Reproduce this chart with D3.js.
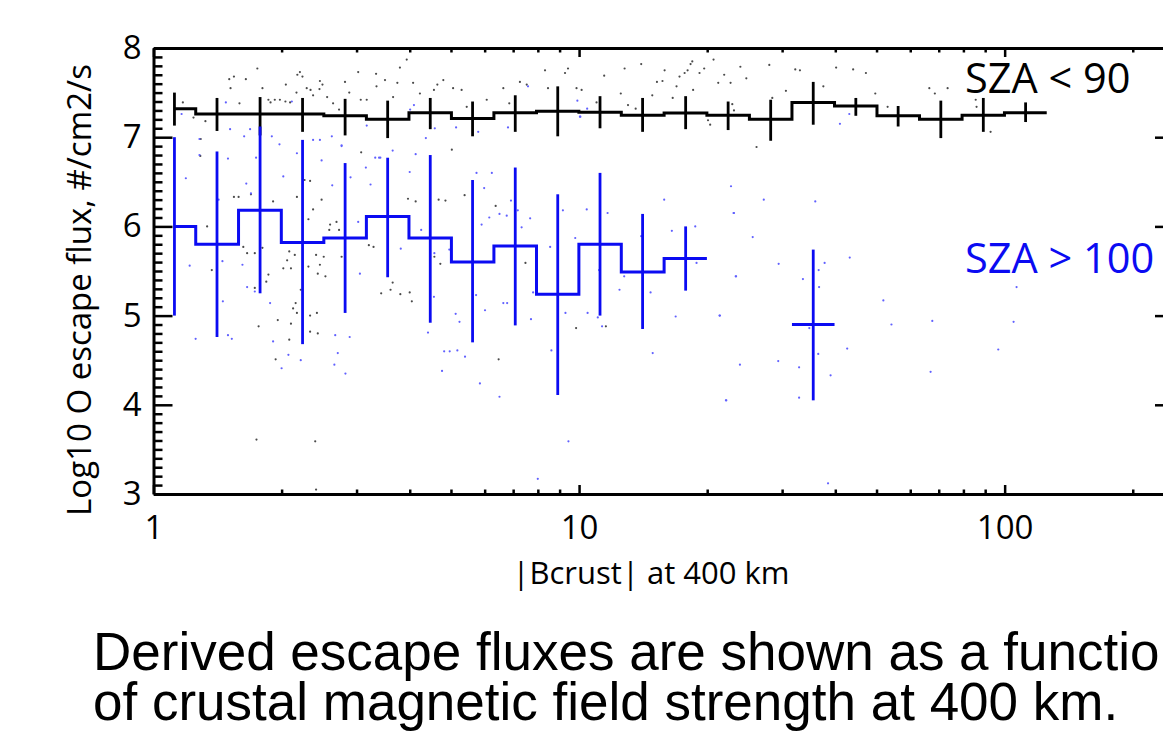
<!DOCTYPE html>
<html>
<head>
<meta charset="utf-8">
<script src="https://cdn.jsdelivr.net/npm/d3@7/dist/d3.min.js"></script>
<style>
  html, body { margin: 0; padding: 0; background: #fff; overflow: hidden; }
  svg { display: block; }
</style>
</head>
<body>
<svg id="chart" width="1163" height="745"></svg>
<script>
// bin centres, |Bcrust| at 400 km (nT)
const binCenters = [1.12, 1.41, 1.78, 2.24, 2.82, 3.55, 4.47, 5.62, 7.08, 8.91,
  11.2, 14.1, 17.8, 22.4, 28.2, 35.5, 44.7, 56.2, 70.8, 89.1, 112];

// SZA < 90 (dayside), log10 flux with error bar ends
const dayFlux = [7.32, 7.26, 7.26, 7.26, 7.24, 7.20, 7.275, 7.21, 7.275, 7.29,
  7.28, 7.245, 7.27, 7.245, 7.20, 7.39, 7.35, 7.24, 7.20, 7.245, 7.275];
const dayHi = [7.50, 7.44, 7.45, 7.44, 7.43, 7.41, 7.44, 7.40, 7.47, 7.57,
  7.46, 7.44, 7.46, 7.40, 7.42, 7.62, 7.44, 7.35, 7.41, 7.44, 7.39];
const dayLo = [7.13, 7.07, 7.02, 7.06, 7.02, 6.99, 7.09, 7.01, 7.06, 7.01,
  7.10, 7.06, 7.09, 7.08, 6.96, 7.14, 7.24, 7.12, 6.99, 7.06, 7.17];

// SZA > 100 (nightside)
const nightFlux = [6.00, 5.80, 6.18, 5.82, 5.87, 6.11, 5.87, 5.60, 5.78, 5.24,
  5.80, 5.49, 5.64, null, null, 4.90, null, null, null, null, null];
const nightHi = [7.00, 6.84, 7.12, 6.97, 6.71, 6.77, 6.80, 6.52, 6.66, 6.36,
  6.60, 6.14, 6.00, null, null, 5.74, null, null, null, null, null];
const nightLo = [5.00, 4.76, 5.25, 4.68, 5.03, 5.43, 4.92, 4.70, 4.89, 4.11,
  5.00, 4.85, 5.28, null, null, 4.05, null, null, null, null, null];

// individual orbits, [log10 |B|, log10 flux]
const dayDots = [
  [0.069, 7.39], [0.094, 7.22], [0.111, 6.98], [0.122, 7.18], [0.178, 7.65], [0.189, 7.68],
  [0.217, 7.65], [0.181, 7.55], [0.202, 7.38], [0.244, 7.77], [0.256, 7.55], [0.270, 7.42],
  [0.285, 7.42], [0.275, 7.39], [0.297, 7.42], [0.311, 7.59], [0.310, 7.40], [0.321, 7.39],
  [0.338, 7.70], [0.344, 7.73], [0.350, 7.68], [0.360, 7.55], [0.336, 7.50], [0.369, 7.53],
  [0.375, 7.47], [0.390, 7.54], [0.391, 7.63], [0.397, 7.59], [0.408, 7.45], [0.422, 7.38],
  [0.436, 7.31], [0.450, 7.62], [0.460, 7.50], [0.481, 7.73], [0.487, 7.42], [0.501, 7.42],
  [0.523, 7.71], [0.524, 7.57], [0.544, 7.64], [0.563, 7.45], [0.573, 7.61], [0.579, 7.78],
  [0.595, 7.87], [0.610, 7.61], [0.626, 7.49], [0.659, 7.53], [0.667, 7.59], [0.681, 7.64],
  [0.704, 7.55], [0.724, 7.53], [0.736, 7.34], [0.783, 7.42], [0.822, 7.55], [0.836, 7.38],
  [0.861, 7.62], [0.877, 7.59], [0.920, 7.75], [0.927, 7.55], [0.967, 7.72], [0.974, 7.77],
  [0.994, 7.55], [1.006, 7.53], [1.041, 7.39], [1.059, 7.69], [1.098, 7.49], [1.107, 7.77],
  [1.146, 7.82], [1.133, 7.32], [1.115, 7.36], [1.172, 7.47], [1.183, 7.62], [1.201, 7.75],
  [1.196, 7.63], [1.220, 7.44], [1.229, 7.57], [1.236, 7.68], [1.248, 7.72], [1.255, 7.75],
  [1.262, 7.82], [1.266, 7.85], [1.268, 7.53], [1.283, 7.72], [1.294, 7.77], [1.303, 7.19],
  [1.308, 7.14], [1.316, 7.87], [1.327, 7.61], [1.341, 7.70], [1.356, 7.61], [1.360, 7.37],
  [1.364, 7.30], [1.379, 7.79], [1.393, 7.66], [1.417, 6.89], [1.447, 7.81], [1.454, 7.44],
  [1.486, 7.52], [1.508, 7.76], [1.519, 7.75], [1.574, 7.57], [1.604, 7.78], [1.644, 7.76],
  [1.674, 7.72], [1.696, 7.49], [1.725, 7.34], [1.823, 7.55], [1.836, 7.49], [1.866, 7.55],
  [1.932, 7.42], [1.934, 7.34], [1.967, 7.06],
  [0.110, 6.79], [0.126, 6.00], [0.137, 5.51], [0.189, 6.33], [0.200, 6.33], [0.229, 6.36],
  [0.281, 6.28], [0.337, 6.33], [0.355, 6.52], [0.368, 6.51], [0.364, 6.08], [0.375, 6.19],
  [0.395, 6.30], [0.415, 6.02], [0.413, 5.96], [0.430, 6.05], [0.436, 5.96], [0.442, 5.66],
  [0.404, 5.44], [0.400, 5.66], [0.391, 5.57], [0.386, 5.47], [0.382, 5.68], [0.364, 5.55],
  [0.384, 5.03], [0.368, 5.00], [0.346, 5.29], [0.334, 5.14], [0.328, 5.08], [0.337, 5.03],
  [0.323, 4.91], [0.319, 4.73], [0.292, 4.95], [0.287, 4.51], [0.247, 4.88], [0.238, 5.31],
  [0.265, 5.38], [0.270, 5.46], [0.314, 5.62], [0.319, 5.72], [0.332, 5.68], [0.323, 5.53],
  [0.305, 5.53], [0.211, 5.77], [0.220, 5.70], [0.238, 5.70], [0.256, 5.76], [0.368, 4.82],
  [0.386, 4.80], [0.488, 6.83], [0.517, 5.77], [0.506, 5.79], [0.535, 5.25], [0.562, 5.37],
  [0.557, 5.29], [0.580, 5.24], [0.602, 5.26], [0.607, 5.16], [0.598, 6.31], [0.616, 6.28],
  [0.670, 6.30], [0.686, 6.29], [0.674, 5.58], [0.660, 5.66], [0.701, 6.86], [0.731, 6.35],
  [0.804, 6.23], [0.811, 4.51], [0.874, 5.59], [0.993, 4.86], [1.063, 4.88],
  [0.242, 3.61], [0.380, 3.59], [0.382, 3.05]
];

const nightDots = [
  [0.066, 7.26], [0.170, 7.39], [0.180, 7.09], [0.227, 7.09], [0.241, 6.77], [0.278, 7.01],
  [0.325, 7.40], [0.375, 6.97], [0.419, 7.01], [0.442, 6.90], [0.501, 7.13], [0.530, 6.77],
  [0.603, 7.31], [0.612, 7.36], [0.640, 6.99], [0.661, 7.10], [0.711, 7.11], [0.763, 7.06],
  [0.833, 7.11], [0.880, 7.57], [0.996, 7.41], [1.003, 7.23], [1.002, 7.23], [1.019, 7.32],
  [1.613, 7.15], [1.635, 7.26],
  [0.076, 6.54], [0.108, 6.98], [0.108, 6.80], [0.085, 5.56], [0.099, 4.74], [0.162, 5.61],
  [0.163, 5.16], [0.175, 4.78], [0.184, 4.74], [0.153, 6.30], [0.175, 6.76], [0.218, 6.48],
  [0.229, 6.37], [0.213, 7.01], [0.296, 6.92], [0.305, 6.56], [0.209, 5.57], [0.220, 5.32],
  [0.238, 5.27], [0.274, 5.14], [0.281, 4.71], [0.301, 4.41], [0.317, 4.56], [0.346, 4.50],
  [0.337, 6.82], [0.391, 6.97], [0.395, 6.74], [0.420, 6.46], [0.427, 4.78], [0.433, 4.58],
  [0.442, 6.91], [0.463, 6.55], [0.461, 4.76], [0.451, 4.35], [0.425, 4.45], [0.481, 6.05],
  [0.485, 5.47], [0.499, 6.66], [0.510, 6.47], [0.521, 6.77], [0.533, 6.77], [0.562, 6.85],
  [0.581, 5.75], [0.602, 6.61], [0.616, 6.81], [0.629, 5.96], [0.645, 4.81], [0.678, 4.38],
  [0.683, 4.60], [0.696, 4.60], [0.659, 5.21], [0.660, 5.70], [0.695, 5.74], [0.714, 4.61],
  [0.710, 5.02], [0.719, 4.93], [0.732, 4.54], [0.759, 6.60], [0.771, 6.02], [0.777, 6.43],
  [0.758, 5.23], [0.779, 5.06], [0.767, 4.24], [0.795, 6.60], [0.789, 6.10], [0.813, 6.14],
  [0.822, 5.14], [0.831, 5.14], [0.830, 6.12], [0.840, 6.29], [0.856, 6.18], [0.865, 5.99],
  [0.885, 6.09], [0.887, 4.96], [0.892, 5.26], [0.932, 5.77], [0.935, 4.61], [0.962, 6.18],
  [0.968, 5.03], [0.991, 5.87], [1.020, 5.03], [1.018, 6.19], [1.044, 4.98], [1.047, 5.51],
  [1.054, 4.88], [1.067, 6.15], [1.095, 5.29], [1.106, 5.44], [1.146, 5.89], [1.168, 5.26],
  [1.173, 4.58], [1.200, 6.30], [1.218, 5.95], [1.227, 4.99], [1.273, 6.00], [1.276, 5.59],
  [1.330, 5.00], [1.357, 6.45], [1.363, 6.15], [1.369, 5.44], [1.345, 4.05], [0.813, 4.09],
  [1.364, 6.15], [1.408, 5.88], [1.368, 5.44], [1.331, 5.00], [1.378, 4.45], [1.346, 4.05],
  [1.469, 5.58], [1.468, 4.49], [1.517, 4.42], [1.517, 4.08], [1.526, 5.41], [1.563, 5.51],
  [1.564, 5.32], [1.577, 5.59], [1.562, 4.57], [1.591, 4.33], [1.541, 4.86], [1.636, 5.65],
  [1.630, 4.63], [1.585, 3.12], [1.715, 5.17], [1.734, 4.90], [1.830, 4.94], [1.826, 4.37],
  [1.985, 4.62], [2.021, 4.93], [2.028, 5.32], [1.434, 6.30], [1.555, 6.28],
  [0.975, 3.59], [0.903, 3.17]
];

const yTickValues = [3, 4, 5, 6, 7, 8];
const xTickValues = [1, 10, 100];
const xTitle = '|Bcrust| at 400 km';
const yTitle = 'Log10 O escape flux, #/cm2/s';
const dayLabel = 'SZA < 90';
const nightLabel = 'SZA > 100';
const captionLines = [
  'Derived escape fluxes are shown as a function',
  'of crustal magnetic field strength at 400 km.'
];

const BLUE = '#0b0bf2';
const FONT = "'Open Sans', 'Noto Sans', sans-serif";

const svg = d3.select('#chart');
svg.append('rect').attr('width', 1163).attr('height', 745).attr('fill', '#fff');

const x = d3.scaleLog().domain([1, 250]).range([153.5, 1174]);
const y = d3.scaleLinear().domain([3, 8]).range([494, 48]);
const [x0, x1] = x.range();
const [y0, y1] = y.range();

// step edges: geometric midpoints between neighbouring bins
function binEdges(i) {
  const c = binCenters[i];
  const prev = binCenters[i - 1];
  const next = binCenters[i + 1];
  const lo = prev ? Math.sqrt(prev * c) : c;
  const hi = next ? Math.sqrt(next * c) : c * Math.sqrt(c / prev);
  return [lo, hi];
}

// scattered orbits
const dots = svg.append('g');
dots.selectAll('.day-dot')
  .data(dayDots)
  .enter()
  .append('circle')
  .attr('class', 'day-dot')
  .attr('cx', d => x(10 ** d[0]))
  .attr('cy', d => y(d[1]))
  .attr('r', 1.1)
  .attr('fill', '#4a4a4a');

dots.selectAll('.night-dot')
  .data(nightDots)
  .enter()
  .append('circle')
  .attr('class', 'night-dot')
  .attr('cx', d => x(10 ** d[0]))
  .attr('cy', d => y(d[1]))
  .attr('r', 1.1)
  .attr('fill', '#6060ff');

function drawSeries(flux, hi, lo, color) {
  const g = svg.append('g');
  const pts = binCenters.flatMap((c, i) => {
    const [a, b] = binEdges(i);
    return [{ b: a, v: flux[i] }, { b: b, v: flux[i] }];
  });
  const line = d3.line()
    .defined(d => d.v != null)
    .x(d => x(d.b))
    .y(d => y(d.v));

  g.append('path')
    .attr('d', line(pts))
    .attr('fill', 'none')
    .attr('stroke', color)
    .attr('stroke-width', 3)
    .attr('stroke-linejoin', 'miter');

  const bars = binCenters
    .map((c, i) => ({ c, hi: hi[i], lo: lo[i] }))
    .filter(d => d.hi != null);

  g.selectAll('.err')
    .data(bars)
    .enter()
    .append('line')
    .attr('class', 'err')
    .attr('x1', d => x(d.c))
    .attr('x2', d => x(d.c))
    .attr('y1', d => y(d.hi))
    .attr('y2', d => y(d.lo))
    .attr('stroke', color)
    .attr('stroke-width', 2.8);
}

drawSeries(dayFlux, dayHi, dayLo, '#000');
drawSeries(nightFlux, nightHi, nightLo, BLUE);

// axes, ticks pointing inwards
const minorY = d3.range(30, 81).map(v => v / 10).filter(v => !Number.isInteger(v));
const minorX = x.ticks().filter(v => !xTickValues.includes(v));

function styleAxis(g, keepDomain) {
  g.attr('font-family', FONT).attr('font-size', 33);
  g.selectAll('.tick line').attr('stroke', '#000').attr('stroke-width', 2.5);
  g.selectAll('.tick text').attr('fill', '#000');
  if (keepDomain) {
    g.select('.domain').attr('stroke', '#000').attr('stroke-width', 3);
  } else {
    g.select('.domain').remove();
  }
}

svg.append('g')
  .attr('transform', `translate(${x0},0)`)
  .call(d3.axisLeft(y).tickValues(minorY).tickSize(-9).tickFormat(''))
  .call(g => styleAxis(g, false));
svg.append('g')
  .attr('transform', `translate(${x0},0)`)
  .call(d3.axisLeft(y).tickValues(yTickValues).tickSize(-19).tickSizeOuter(0).tickPadding(12).tickFormat(d3.format('d')))
  .call(g => styleAxis(g, true));

svg.append('g')
  .attr('transform', `translate(${x1},0)`)
  .call(d3.axisRight(y).tickValues(minorY).tickSize(-9).tickFormat(''))
  .call(g => styleAxis(g, false));
svg.append('g')
  .attr('transform', `translate(${x1},0)`)
  .call(d3.axisRight(y).tickValues(yTickValues).tickSize(-19).tickSizeOuter(0).tickFormat(''))
  .call(g => styleAxis(g, true));

svg.append('g')
  .attr('transform', `translate(0,${y0})`)
  .call(d3.axisBottom(x).tickValues(minorX).tickSize(-4.5).tickFormat(''))
  .call(g => styleAxis(g, false));
svg.append('g')
  .attr('transform', `translate(0,${y0})`)
  .call(d3.axisBottom(x).tickValues(xTickValues).tickSize(-9).tickSizeOuter(0).tickPadding(22).tickFormat(d3.format('d')))
  .call(g => styleAxis(g, true));

svg.append('g')
  .attr('transform', `translate(0,${y1})`)
  .call(d3.axisTop(x).tickValues(minorX).tickSize(-4.5).tickFormat(''))
  .call(g => styleAxis(g, false));
svg.append('g')
  .attr('transform', `translate(0,${y1})`)
  .call(d3.axisTop(x).tickValues(xTickValues).tickSize(-9).tickSizeOuter(0).tickFormat(''))
  .call(g => styleAxis(g, true));

// titles
svg.append('text')
  .attr('x', 651)
  .attr('y', 584)
  .attr('text-anchor', 'middle')
  .attr('font-family', FONT)
  .attr('font-size', 31)
  .text(xTitle);

svg.append('text')
  .attr('transform', 'translate(91,290) rotate(-90)')
  .attr('text-anchor', 'middle')
  .attr('font-family', FONT)
  .attr('font-size', 33)
  .text(yTitle);

svg.append('text')
  .attr('x', 965)
  .attr('y', 93)
  .attr('font-family', FONT)
  .attr('font-size', 41.5)
  .attr('fill', '#000')
  .text(dayLabel);

svg.append('text')
  .attr('x', 965)
  .attr('y', 273)
  .attr('font-family', FONT)
  .attr('font-size', 41.5)
  .attr('fill', BLUE)
  .text(nightLabel);

// caption under the figure
svg.selectAll('.caption')
  .data(captionLines)
  .enter()
  .append('text')
  .attr('class', 'caption')
  .attr('x', 93)
  .attr('y', (d, i) => 670 + i * 50)
  .attr('font-family', "'Liberation Sans', Arial, sans-serif")
  .attr('font-size', 53)
  .attr('fill', '#000')
  .text(d => d);
</script>
</body>
</html>
